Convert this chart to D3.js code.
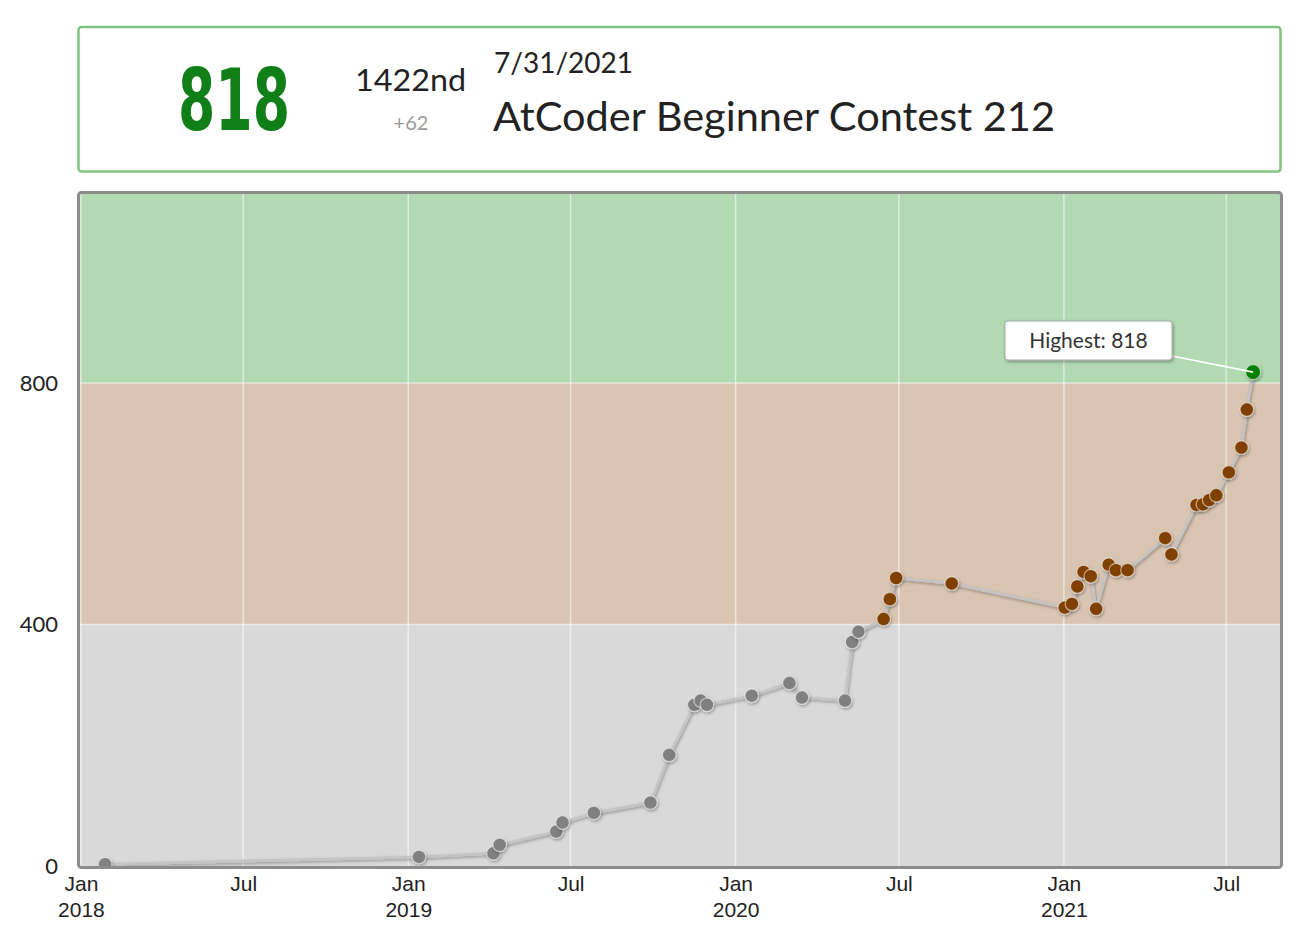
<!DOCTYPE html>
<html>
<head>
<meta charset="utf-8">
<script src="https://cdn.jsdelivr.net/npm/d3@7"></script>
<style>
  html, body { margin: 0; padding: 0; background: #fff; }
  svg { display: block; font-family: Lato, "Open Sans", sans-serif; }
</style>
</head>
<body>
<div id="chart"></div>
<script>
// contest history (date of contest, rating after it)
const contestDates = [
  "2018-01-28", "2019-01-13", "2019-04-06", "2019-04-13", "2019-06-15",
  "2019-06-22", "2019-07-27", "2019-09-28", "2019-10-19", "2019-11-16",
  "2019-11-23", "2019-11-30", "2020-01-19", "2020-03-01", "2020-03-15",
  "2020-05-02", "2020-05-10", "2020-05-17", "2020-06-14", "2020-06-21",
  "2020-06-28", "2020-08-29", "2021-01-02", "2021-01-10", "2021-01-16",
  "2021-01-23", "2021-01-31", "2021-02-06", "2021-02-20", "2021-02-28",
  "2021-03-13", "2021-04-24", "2021-05-01", "2021-05-29", "2021-06-05",
  "2021-06-12", "2021-06-20", "2021-07-04", "2021-07-18", "2021-07-24",
  "2021-07-31"
];
const ratings = [
  3, 15, 21, 35, 57,
  72, 88, 105, 184, 267,
  274, 267, 282, 303, 279,
  274, 371, 388, 409, 442,
  477, 468, 428, 434, 463,
  487, 480, 426, 499, 490,
  490, 543, 516, 598, 599,
  606, 614, 652, 693, 756,
  818
];

// rating colour bands
const bandBounds = [0, 400, 800, 1200];
const bandNames = ["gray", "brown", "green"];
const yTicks = [0, 400, 800];

// header of the selected contest
const latestRating = "818";
const latestPlace = "1422nd";
const latestDiff = "+62";
const latestDate = "7/31/2021";
const latestContest = "AtCoder Beginner Contest 212";
const highestLabel = "Highest: 818";

const colors = { gray: "#808080", brown: "#804000", green: "#008000" };
const parseDate = d3.timeParse("%Y-%m-%d");
const history = contestDates.map((d, i) => ({ date: parseDate(d), rating: ratings[i] }));

const width = 1300, height = 933;
const plot = { left: 80, right: 1280, top: 194, bottom: 866 };

const svg = d3.select("#chart").append("svg")
  .attr("width", width)
  .attr("height", height);

const defs = svg.append("defs");
const shadow = defs.append("filter").attr("id", "shadow")
  .attr("x", "-50%").attr("y", "-50%").attr("width", "200%").attr("height", "200%");
shadow.append("feDropShadow")
  .attr("dx", 1).attr("dy", 1.5).attr("stdDeviation", 1.4)
  .attr("flood-color", "#000").attr("flood-opacity", 0.35);
defs.append("clipPath").attr("id", "plot-clip")
  .append("rect")
  .attr("x", plot.left).attr("y", plot.top)
  .attr("width", plot.right - plot.left).attr("height", plot.bottom - plot.top);

// ---- header box ----
const header = svg.append("g").attr("class", "header");
header.append("rect")
  .attr("x", 78.5).attr("y", 27).attr("width", 1202).attr("height", 144.5)
  .attr("rx", 3)
  .attr("fill", "#fff")
  .attr("stroke", "#80c480")
  .attr("stroke-width", 2.5);

header.append("text")
  .attr("x", 178).attr("y", 130)
  .attr("font-family", "'Liberation Sans Narrow', 'DejaVu Sans Condensed', sans-serif")
  .attr("font-weight", "bold")
  .attr("font-size", 86)
  .attr("textLength", 112)
  .attr("lengthAdjust", "spacingAndGlyphs")
  .attr("fill", "#117f17")
  .text(latestRating);

header.append("text")
  .attr("x", 410.5).attr("y", 91)
  .attr("text-anchor", "middle")
  .attr("font-size", 31)
  .attr("textLength", 111)
  .attr("lengthAdjust", "spacingAndGlyphs")
  .attr("fill", "#222")
  .text(latestPlace);

header.append("text")
  .attr("x", 411).attr("y", 130)
  .attr("text-anchor", "middle")
  .attr("font-size", 20)
  .attr("fill", "#999")
  .text(latestDiff);

header.append("text")
  .attr("x", 494).attr("y", 73)
  .attr("font-size", 28)
  .attr("fill", "#222")
  .text(latestDate);

header.append("text")
  .attr("x", 493).attr("y", 131)
  .attr("font-size", 41)
  .attr("textLength", 562)
  .attr("lengthAdjust", "spacingAndGlyphs")
  .attr("fill", "#222")
  .text(latestContest);

// ---- scales ----
const xScale = d3.scaleTime()
  .domain([new Date(2017, 11, 31), new Date(2021, 7, 30)])
  .range([plot.left, plot.right]);

const yScale = d3.scaleLinear()
  .domain([0, 1113])
  .range([plot.bottom, plot.top]);

const bandColor = (r) => r >= 800 ? colors.green : r >= 400 ? colors.brown : colors.gray;

// ---- bands ----
svg.append("rect")
  .attr("x", plot.left).attr("y", plot.top)
  .attr("width", plot.right - plot.left).attr("height", plot.bottom - plot.top)
  .attr("fill", "#fff");

const bandsG = svg.append("g").attr("clip-path", "url(#plot-clip)");
bandsG.selectAll("rect")
  .data(bandNames)
  .join("rect")
  .attr("x", plot.left)
  .attr("width", plot.right - plot.left)
  .attr("y", (d, i) => yScale(bandBounds[i + 1]))
  .attr("height", (d, i) => yScale(bandBounds[i]) - yScale(bandBounds[i + 1]))
  .attr("fill", (d) => colors[d])
  .attr("fill-opacity", 0.3);

// ---- grid ----
const xTicks = d3.timeMonth.every(6).range(new Date(2018, 0, 1), new Date(2021, 7, 30));
const gridG = svg.append("g").attr("clip-path", "url(#plot-clip)");
gridG.selectAll("line.v")
  .data(xTicks)
  .join("line")
  .attr("class", "v")
  .attr("x1", (d) => xScale(d)).attr("x2", (d) => xScale(d))
  .attr("y1", plot.top).attr("y2", plot.bottom)
  .attr("stroke", "#fff").attr("stroke-opacity", 0.55).attr("stroke-width", 1.5);
gridG.selectAll("line.h")
  .data(yTicks.slice(1))
  .join("line")
  .attr("class", "h")
  .attr("x1", plot.left).attr("x2", plot.right)
  .attr("y1", (d) => yScale(d)).attr("y2", (d) => yScale(d))
  .attr("stroke", "#fff").attr("stroke-opacity", 0.55).attr("stroke-width", 1.5);

// ---- axes ----
const monthFmt = d3.timeFormat("%b");
const yearFmt = d3.timeFormat("%Y");
const xAxisG = svg.append("g")
  .attr("transform", `translate(0,${plot.bottom})`)
  .call(d3.axisBottom(xScale).tickValues(xTicks).tickSize(0).tickPadding(0).tickFormat(""));
xAxisG.select(".domain").remove();
xAxisG.selectAll(".tick text").remove();
xAxisG.selectAll(".tick").each(function (d) {
  const t = d3.select(this).append("text")
    .attr("text-anchor", "middle")
    .attr("font-size", 21)
    .attr("fill", "#222");
  t.append("tspan").attr("x", 0).attr("y", 25).text(monthFmt(d));
  if (d.getMonth() === 0) {
    t.append("tspan").attr("x", 0).attr("y", 51).text(yearFmt(d));
  }
});

const yAxisG = svg.append("g")
  .attr("transform", `translate(${plot.left},0)`)
  .call(d3.axisLeft(yScale).tickValues(yTicks).tickSize(0).tickPadding(22));
yAxisG.select(".domain").remove();
yAxisG.selectAll(".tick text")
  .attr("font-family", "Lato, sans-serif")
  .attr("font-size", 22)
  .attr("fill", "#222");

// ---- rating line and points ----
const dataG = svg.append("g").attr("clip-path", "url(#plot-clip)");
const line = d3.line()
  .x((d) => xScale(d.date))
  .y((d) => yScale(d.rating));

dataG.append("path")
  .datum(history)
  .attr("d", line)
  .attr("fill", "none")
  .attr("stroke", "#c4c4c4")
  .attr("stroke-width", 2.6)
  .attr("stroke-linejoin", "round")
  .attr("filter", "url(#shadow)");

const last = history[history.length - 1];

dataG.selectAll("circle")
  .data(history)
  .join("circle")
  .attr("cx", (d) => xScale(d.date))
  .attr("cy", (d) => yScale(d.rating))
  .attr("r", (d) => d === last ? 7.5 : 6.8)
  .attr("fill", (d) => bandColor(d.rating))
  .attr("stroke", "rgba(255,255,255,0.55)")
  .attr("stroke-width", 1.2)
  .attr("filter", "url(#shadow)");

// ---- highest label ----
const tipG = svg.append("g");
tipG.append("line")
  .attr("x1", 1172).attr("y1", 356)
  .attr("x2", xScale(last.date)).attr("y2", yScale(last.rating))
  .attr("stroke", "#fff").attr("stroke-width", 1.6);
tipG.append("rect")
  .attr("x", 1005).attr("y", 321).attr("width", 167).attr("height", 39)
  .attr("rx", 3)
  .attr("fill", "#fff")
  .attr("stroke", "#aaa")
  .attr("stroke-width", 1)
  .attr("filter", "url(#shadow)");
tipG.append("text")
  .attr("x", 1088.5).attr("y", 348)
  .attr("text-anchor", "middle")
  .attr("font-size", 21)
  .attr("fill", "#333")
  .text(highestLabel);

// ---- plot frame ----
svg.append("rect")
  .attr("x", 78.5).attr("y", 192.5)
  .attr("width", 1203).attr("height", 675)
  .attr("rx", 3)
  .attr("fill", "none")
  .attr("stroke", "#8c8c8c")
  .attr("stroke-width", 3);
</script>
</body>
</html>
